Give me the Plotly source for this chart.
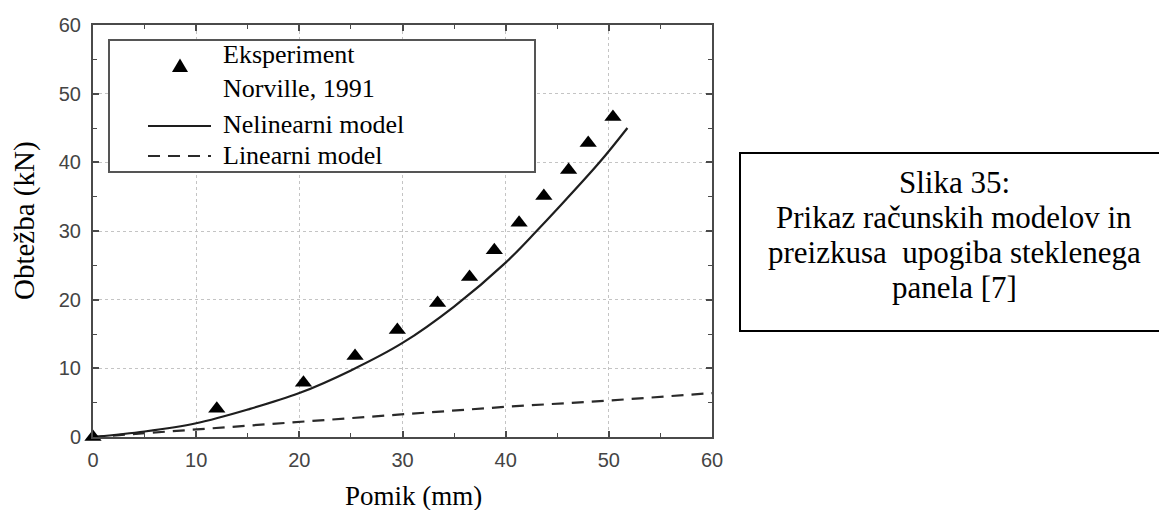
import plotly.graph_objects as go

# ---- data ----
exp_x = [0, 12.0, 20.4, 25.4, 29.5, 33.4, 36.5, 38.9, 41.3, 43.7, 46.1, 48.0, 50.4]
exp_y = [0, 4.1, 7.9, 11.8, 15.6, 19.5, 23.3, 27.2, 31.2, 35.1, 38.9, 42.8, 46.6]

nonlin_x = [0, 5, 10, 15, 20, 25, 30, 35, 40, 43, 45, 49.1, 51.8]
nonlin_y = [0, 0.8, 2.0, 4.0, 6.4, 9.7, 13.7, 19.0, 25.4, 30.0, 33.2, 40.0, 45.0]

lin_x = [0, 10, 20, 30, 40, 50, 60]
lin_y = [0, 1.1, 2.2, 3.3, 4.4, 5.3, 6.4]

x_ticks = [0, 10, 20, 30, 40, 50, 60]
y_ticks = [0, 10, 20, 30, 40, 50, 60]

legend_labels = ["Eksperiment", "Norville, 1991", "Nelinearni model", "Linearni model"]
caption_lines = ["Slika 35:", "Prikaz računskih modelov in",
                 "preizkusa  upogiba steklenega", "panela [7]"]
x_title = "Pomik (mm)"
y_title = "Obtežba (kN)"

# ---- layout geometry (pixels) ----
W, H = 1159, 510
L, R, T, B = 93, 712, 25, 437


def px(x):
    return (x - L) / (R - L)


def py(y):
    return (B - y) / (B - T)


SERIF = "Liberation Serif, Times New Roman, serif"
SANS = "Liberation Sans, Arial, sans-serif"
AX = "#4a4a4a"

fig = go.Figure()
fig.add_trace(go.Scatter(x=lin_x, y=lin_y, mode="lines",
                         line=dict(color="#2a2a2a", width=2.2, dash="12px,8px"),
                         showlegend=False))
fig.add_trace(go.Scatter(x=nonlin_x, y=nonlin_y, mode="lines",
                         line=dict(color="#1e1e1e", width=2.2, shape="spline", smoothing=1.0),
                         showlegend=False))
fig.add_trace(go.Scatter(x=exp_x, y=exp_y, mode="markers",
                         marker=dict(symbol="triangle-up", size=15, color="black"),
                         cliponaxis=False, showlegend=False))

axis_common = dict(
    range=[0, 60], tickvals=x_ticks, showline=True, linecolor=AX, linewidth=2,
    mirror="ticks", ticks="inside", ticklen=6, tickwidth=1.5, tickcolor=AX,
    showgrid=True, gridcolor="#c4c4c4", gridwidth=1, griddash="dot",
    zeroline=False, fixedrange=True,
    tickfont=dict(family=SANS, size=20, color="#444"),
    minor=dict(dtick=5, ticks="inside", ticklen=4, tickwidth=1.2, tickcolor=AX, showgrid=False),
)
fig.update_xaxes(**axis_common, ticklabelstandoff=4)
ya = dict(axis_common)
ya["tickvals"] = y_ticks
fig.update_yaxes(**ya, ticklabelstandoff=6)

shapes = []
annotations = []

# legend box
shapes.append(dict(type="rect", xref="paper", yref="paper",
                   x0=px(109), x1=px(535), y0=py(172), y1=py(40),
                   line=dict(color="#555", width=2), fillcolor="white", layer="above"))
# legend samples
tx, ty, ts = 180, 66, 8
shapes.append(dict(type="path", xref="paper", yref="paper",
                   path=f"M {px(tx - ts)} {py(ty + ts * 0.75)} L {px(tx + ts)} {py(ty + ts * 0.75)} L {px(tx)} {py(ty - ts * 0.95)} Z",
                   fillcolor="black", line=dict(color="black", width=0), layer="above"))
shapes.append(dict(type="line", xref="paper", yref="paper",
                   x0=px(148), x1=px(211), y0=py(126), y1=py(126),
                   line=dict(color="#1e1e1e", width=2.2), layer="above"))
shapes.append(dict(type="line", xref="paper", yref="paper",
                   x0=px(148), x1=px(211), y0=py(156), y1=py(156),
                   line=dict(color="#2a2a2a", width=2.2, dash="12px,8px"), layer="above"))
for lab, yy in zip(legend_labels, [55, 88, 124, 155]):
    annotations.append(dict(text=lab, xref="paper", yref="paper", x=px(221), y=py(yy),
                            xanchor="left", yanchor="middle", showarrow=False,
                            font=dict(family=SERIF, size=26, color="black")))

# caption box on the right
shapes.append(dict(type="rect", xref="paper", yref="paper",
                   x0=px(740), x1=px(1175), y0=py(331), y1=py(153),
                   line=dict(color="black", width=2), fillcolor="white"))
for lab, yy in zip(caption_lines, [182, 217, 252, 287]):
    annotations.append(dict(text=lab, xref="paper", yref="paper", x=px(954), y=py(yy),
                            xanchor="center", yanchor="middle", showarrow=False,
                            font=dict(family=SERIF, size=31, color="black")))

# axis titles
annotations.append(dict(text=x_title, xref="paper", yref="paper", x=px(413), y=py(496),
                        xanchor="center", yanchor="middle", showarrow=False,
                        font=dict(family=SERIF, size=27, color="black")))
annotations.append(dict(text=y_title, xref="paper", yref="paper", x=px(24), y=py(221),
                        xanchor="center", yanchor="middle", showarrow=False, textangle=-90,
                        font=dict(family=SERIF, size=29, color="black")))

fig.update_layout(
    width=W, height=H, autosize=False,
    margin=dict(l=L, r=W - R, t=T, b=H - B, pad=0),
    paper_bgcolor="white", plot_bgcolor="white",
    shapes=shapes, annotations=annotations, showlegend=False,
)

fig.write_html("out.html", config={"displayModeBar": False})
